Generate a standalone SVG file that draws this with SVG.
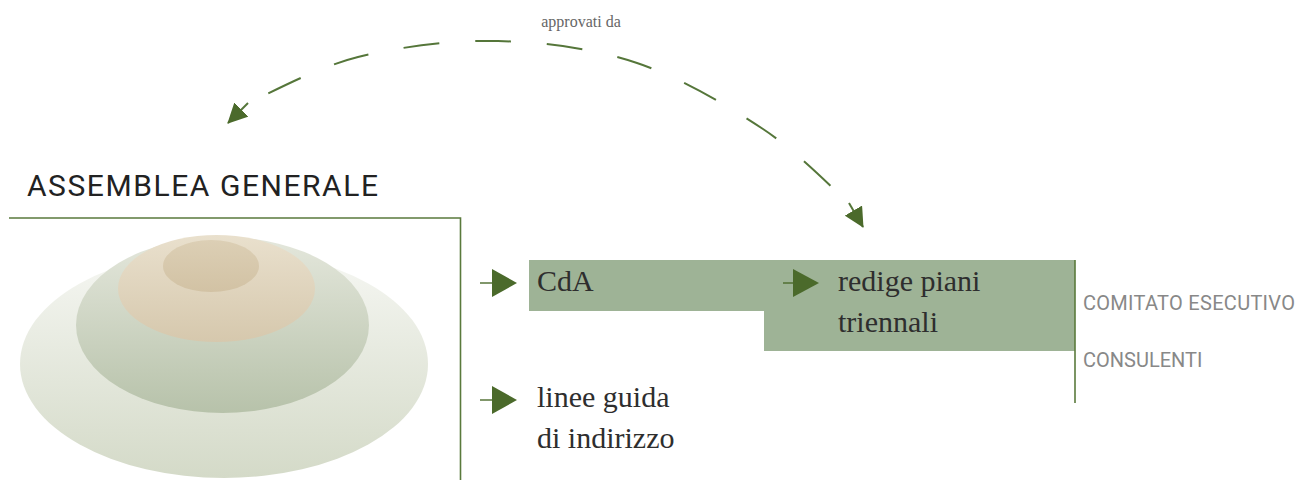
<svg xmlns="http://www.w3.org/2000/svg" width="1298" height="480" viewBox="0 0 1298 480">
  <defs>
    <style>
      .serif { font-family: "Liberation Serif", "DejaVu Serif", serif; fill: #2e2e2e; font-size: 30px; }
      .sans { font-family: Roboto, "Liberation Sans", sans-serif; font-weight: 400; }
      .frame { fill: none; stroke: #5a7a3c; stroke-width: 1.6; }
      .band { fill: #9eb396; }
      .tick { stroke: #4b6a2b; stroke-width: 1.4; }
      .tri { fill: #4b6a2b; }
      .dash { fill: none; stroke: #55763a; stroke-width: 2; stroke-dasharray: 35 35; }
      .arrowline { fill: none; stroke: #55763a; stroke-width: 2; }
    </style>
    <marker id="ahb" viewBox="0 0 20 20" refX="19" refY="10" markerWidth="20" markerHeight="20" markerUnits="userSpaceOnUse" orient="auto">
      <path d="M0,0 L20,10 L0,20 Z" fill="#4b6a2b"/>
    </marker>
    <linearGradient id="gOuter" x1="0" y1="0" x2="0" y2="1">
      <stop offset="0" stop-color="#f6f7f3"/>
      <stop offset="1" stop-color="#d4dac8"/>
    </linearGradient>
    <linearGradient id="gMid" x1="0" y1="0" x2="0" y2="1">
      <stop offset="0" stop-color="#e4e7dc"/>
      <stop offset="1" stop-color="#b7c2aa"/>
    </linearGradient>
    <linearGradient id="gTan" x1="0" y1="0" x2="0" y2="1">
      <stop offset="0" stop-color="#e9e0cd"/>
      <stop offset="1" stop-color="#d6c8ad"/>
    </linearGradient>
    <linearGradient id="gCore" x1="0" y1="0" x2="0" y2="1">
      <stop offset="0" stop-color="#dccfb5"/>
      <stop offset="1" stop-color="#d2c2a4"/>
    </linearGradient>
  </defs>
  <rect width="1298" height="480" fill="#ffffff"/>

  <g id="assemblea">
    <text class="sans" x="27" y="196" font-size="30" fill="#222222" textLength="351">ASSEMBLEA GENERALE</text>
    <path class="frame" d="M9,218 H460.5 V480"/>
    <ellipse cx="224" cy="364" rx="204" ry="114" fill="url(#gOuter)"/>
    <ellipse cx="222.5" cy="325" rx="146.5" ry="88" fill="url(#gMid)"/>
    <ellipse cx="216.5" cy="288.5" rx="98.5" ry="53.5" fill="url(#gTan)"/>
    <ellipse cx="211" cy="266" rx="48" ry="26" fill="url(#gCore)"/>
  </g>

  <g id="cda">
    <rect class="band" x="529" y="260" width="546" height="51"/>
    <text class="serif" x="537" y="291">CdA</text>
  </g>

  <g id="piani">
    <rect class="band" x="764" y="310" width="311" height="41"/>
    <text class="serif" x="838" y="291">redige piani</text>
    <text class="serif" x="838" y="332">triennali</text>
  </g>

  <g id="linee">
    <text class="serif" x="537" y="407">linee guida</text>
    <text class="serif" x="537" y="448">di indirizzo</text>
  </g>

  <g id="organi">
    <line x1="1075" y1="260" x2="1075" y2="403" stroke="#5a7a3c" stroke-width="1.6"/>
    <text class="sans" x="1083" y="310" font-size="20" fill="#888888" textLength="212">COMITATO ESECUTIVO</text>
    <text class="sans" x="1083" y="367" font-size="20" fill="#888888">CONSULENTI</text>
  </g>

  <g id="connectors">
    <line class="tick" x1="480" y1="283" x2="493" y2="283"/>
    <path class="tri" d="M492,269 L517,283 L492,297 Z"/>
    <line class="tick" x1="783" y1="283" x2="794" y2="283"/>
    <path class="tri" d="M793,269 L819,283 L793,297 Z"/>
    <line class="tick" x1="480" y1="400" x2="493" y2="400"/>
    <path class="tri" d="M492,386 L517,400 L492,414 Z"/>

    <path class="dash" pathLength="642" stroke-dashoffset="48" d="M248,103 C266.3,95.3 316.3,67.3 358,57 C399.7,46.7 451.5,40 498,41 C544.5,42 592.8,48.3 637,63 C681.2,77.7 727.7,105.7 763,129 C798.3,152.3 834.7,190.7 849,203"/>
    <line class="arrowline" x1="248" y1="103" x2="228" y2="123" marker-end="url(#ahb)"/>
    <line class="arrowline" x1="849" y1="203" x2="863" y2="227" marker-end="url(#ahb)"/>
    <text x="581" y="27" font-family="Liberation Serif, serif" font-size="16" fill="#666666" text-anchor="middle">approvati da</text>
  </g>
</svg>
